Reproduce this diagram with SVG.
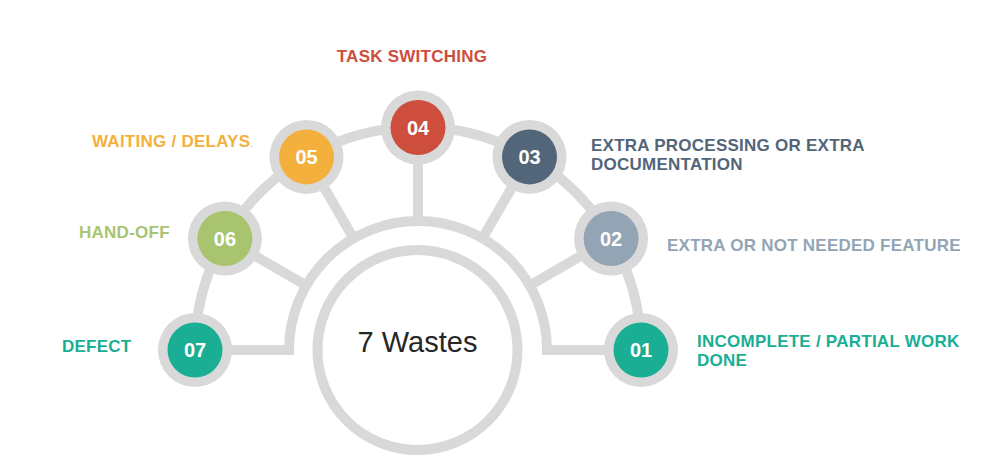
<svg xmlns="http://www.w3.org/2000/svg" width="985" height="458" viewBox="0 0 985 458">
<style>
.ln{fill:none;stroke:#d9d9d9;stroke-width:10;stroke-linejoin:miter}
.ring{fill:#d9d9d9}
.num{font-family:"Liberation Sans",Arial,sans-serif;font-weight:bold;font-size:20px;fill:#ffffff;text-anchor:middle}
.lbl{font-family:"Liberation Sans",Arial,sans-serif;font-weight:bold;font-size:17px;letter-spacing:0.25px}
</style>
<rect width="985" height="458" fill="#ffffff"/>
<g id="connectors">
<path class="ln" d="M195 350 A223 223 0 0 1 641 350"/>
<path class="ln" d="M195 350 H289 A129 129 0 0 1 547 350 H641"/>
<line class="ln" x1="224.9" y1="238.5" x2="306.3" y2="285.5"/>
<line class="ln" x1="306.5" y1="156.9" x2="353.5" y2="238.3"/>
<line class="ln" x1="418" y1="127" x2="418" y2="221"/>
<line class="ln" x1="529.5" y1="156.9" x2="482.5" y2="238.3"/>
<line class="ln" x1="611.1" y1="238.5" x2="529.7" y2="285.5"/>
</g>
<g id="center">
<circle cx="417.5" cy="350" r="100" fill="#ffffff" stroke="#d9d9d9" stroke-width="10"/>
<text x="417.5" y="352" font-family="'Liberation Sans',Arial,sans-serif" font-size="29" fill="#262626" text-anchor="middle">7 Wastes</text>
</g>
<g id="n07">
<circle class="ring" cx="195" cy="350" r="37"/>
<circle cx="195" cy="350" r="27.5" fill="#1aae94"/>
<text class="num" x="195" y="357">07</text>
<text class="lbl" x="62" y="352" fill="#1aae94">DEFECT</text>
</g>
<g id="n06">
<circle class="ring" cx="224.9" cy="238.5" r="37"/>
<circle cx="224.9" cy="238.5" r="27.5" fill="#a9c46f"/>
<text class="num" x="224.9" y="245.5">06</text>
<text class="lbl" x="79" y="238" fill="#a9c46f">HAND-OFF</text>
</g>
<g id="n05">
<circle class="ring" cx="306.5" cy="156.9" r="37"/>
<circle cx="306.5" cy="156.9" r="27.5" fill="#f4b03d"/>
<text class="num" x="306.5" y="163.9">05</text>
<text class="lbl" x="92" y="147" fill="#f4b03d">WAITING / DELAYS<tspan fill="#a6a6a6" font-size="9" font-weight="normal">.</tspan></text>
</g>
<g id="n04">
<circle class="ring" cx="418" cy="127.5" r="37"/>
<circle cx="418" cy="127.5" r="27.5" fill="#cd4e3c"/>
<text class="num" x="418" y="134.5">04</text>
<text class="lbl" x="412" y="62" fill="#cd4e3c" text-anchor="middle">TASK SWITCHING</text>
</g>
<g id="n03">
<circle class="ring" cx="529.5" cy="156.9" r="37"/>
<circle cx="529.5" cy="156.9" r="27.5" fill="#536579"/>
<text class="num" x="529.5" y="163.9">03</text>
<text class="lbl" x="591" y="150.5" fill="#536579">EXTRA PROCESSING OR EXTRA</text>
<text class="lbl" x="591" y="170" fill="#536579">DOCUMENTATION</text>
</g>
<g id="n02">
<circle class="ring" cx="611.1" cy="238.5" r="37"/>
<circle cx="611.1" cy="238.5" r="27.5" fill="#93a4b5"/>
<text class="num" x="611.1" y="245.5">02</text>
<text class="lbl" x="667" y="250.5" fill="#93a4b5">EXTRA OR NOT NEEDED FEATURE</text>
</g>
<g id="n01">
<circle class="ring" cx="641" cy="350" r="37"/>
<circle cx="641" cy="350" r="27.5" fill="#1aae94"/>
<text class="num" x="641" y="357">01</text>
<text class="lbl" x="697" y="346.5" fill="#1aae94">INCOMPLETE / PARTIAL WORK</text>
<text class="lbl" x="697" y="366" fill="#1aae94">DONE</text>
</g>
</svg>
